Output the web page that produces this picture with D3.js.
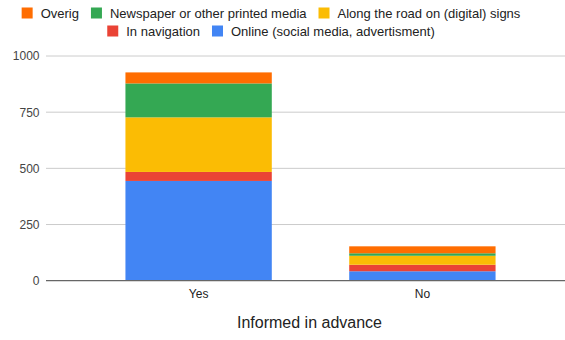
<!DOCTYPE html>
<html>
<head>
<meta charset="utf-8">
<script src="https://cdn.jsdelivr.net/npm/d3@7"></script>
<style>
  html, body { margin: 0; padding: 0; background: #fff; }
  svg { display: block; font-family: "Liberation Sans", Arial, sans-serif; }
</style>
</head>
<body>
<svg id="chart" width="565" height="340"></svg>
<script>
// Categories on the x axis
const categories = ["Yes", "No"];

// Series, listed bottom-to-top in the stack
const seriesNames = [
  "Online (social media, advertisment)",
  "In navigation",
  "Along the road on (digital) signs",
  "Newspaper or other printed media",
  "Overig"
];
const seriesColors = ["#4285f4", "#ea4335", "#fbbc04", "#34a853", "#ff6d01"];

// Values per series, one per category (Yes, No)
const online    = [444, 42];
const navigation = [40, 29];
const roadSigns = [243, 40];
const printed   = [151, 11];
const overig    = [49, 31];

const yTicks = [0, 250, 500, 750, 1000];
const xTitle = "Informed in advance";

// Legend rows (top row first)
const legendRows = [
  ["Overig", "Newspaper or other printed media", "Along the road on (digital) signs"],
  ["In navigation", "Online (social media, advertisment)"]
];

const seriesValues = [online, navigation, roadSigns, printed, overig];
const rows = categories.map((c, i) => {
  const r = { category: c };
  seriesNames.forEach((s, k) => { r[s] = seriesValues[k][i]; });
  return r;
});

const svg = d3.select("#chart");
const plotLeft = 46, plotRight = 575, plotTop = 56, plotBottom = 280.7;

const x = d3.scaleBand().domain(categories).range([plotLeft, plotRight])
  .paddingInner(0.346).paddingOuter(0.355);
const y = d3.scaleLinear().domain([0, 1000]).range([plotBottom, plotTop]);

// Gridlines
svg.append("g").selectAll("line").data(yTicks.filter(d => d > 0)).join("line")
  .attr("x1", plotLeft).attr("x2", 565)
  .attr("y1", d => y(d)).attr("y2", d => y(d))
  .attr("stroke", "#cccccc").attr("stroke-width", 1);

// Y axis labels
const yAxis = svg.append("g").attr("transform", `translate(${plotLeft},0)`)
  .call(d3.axisLeft(y).tickValues(yTicks).tickSize(0).tickPadding(6.5).tickFormat(d3.format("d")));
yAxis.select(".domain").remove();
yAxis.selectAll("text").attr("font-size", 12).attr("fill", "#444")
  .attr("font-family", "Liberation Sans, Arial, sans-serif");

// Stacked bars
const stack = d3.stack().keys(seriesNames)(rows);
svg.append("g").selectAll("g").data(stack).join("g")
  .attr("fill", (d, i) => seriesColors[i])
  .selectAll("rect").data(d => d).join("rect")
  .attr("x", d => x(d.data.category))
  .attr("width", x.bandwidth())
  .attr("y", d => y(d[1]))
  .attr("height", d => y(d[0]) - y(d[1]));

// Baseline
svg.append("line")
  .attr("x1", plotLeft).attr("x2", 565)
  .attr("y1", y(0)).attr("y2", y(0))
  .attr("stroke", "#666").attr("stroke-width", 1.3);

// X axis labels
const xAxis = svg.append("g").attr("transform", `translate(0,${plotBottom})`)
  .call(d3.axisBottom(x).tickSize(0).tickPadding(8.5));
xAxis.select(".domain").remove();
xAxis.selectAll("text").attr("font-size", 12).attr("fill", "#222")
  .attr("font-family", "Liberation Sans, Arial, sans-serif");

// X axis title
svg.append("text")
  .attr("x", 309.5).attr("y", 327.5)
  .attr("text-anchor", "middle")
  .attr("font-size", 16).attr("fill", "#222")
  .text(xTitle);

// Legend
const colorOf = d3.scaleOrdinal().domain(seriesNames).range(seriesColors);
const legendY = [13, 31];
const sw = 11, gapText = 8, gapItem = 12, centerX = 271;
legendRows.forEach((names, ri) => {
  const g = svg.append("g");
  let cx = 0;
  names.forEach(n => {
    const item = g.append("g").attr("transform", `translate(${cx},0)`);
    item.append("rect").attr("x", 0).attr("y", legendY[ri] - sw / 2)
      .attr("width", sw).attr("height", sw).attr("fill", colorOf(n));
    const t = item.append("text").attr("x", sw + gapText).attr("y", legendY[ri])
      .attr("dy", "0.35em").attr("font-size", 13).attr("fill", "#222").text(n);
    cx += sw + gapText + t.node().getComputedTextLength() + gapItem;
  });
  const w = cx - gapItem;
  g.attr("transform", `translate(${centerX - w / 2},0)`);
});
</script>
</body>
</html>
